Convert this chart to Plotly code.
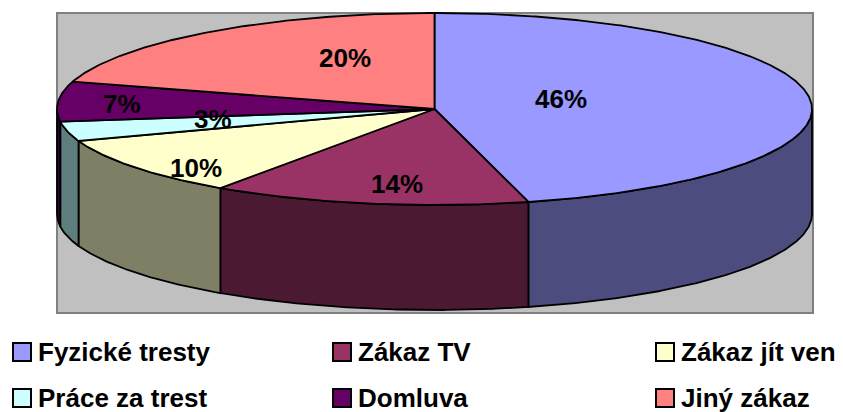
import numpy as np
import plotly.graph_objects as go

# ---- data ----
categories = ["Fyzické tresty", "Zákaz TV", "Zákaz jít ven", "Práce za trest", "Domluva", "Jiný zákaz"]
values = [46.0, 13.6, 10.0, 3.3, 6.7, 20.4]

# ---- style ----
top_colors = ["#9999FF", "#993366", "#FFFFCC", "#CCFFFF", "#660066", "#FF8080"]
side_colors = ["#4C4C7F", "#4C1933", "#7F7F66", "#5F7F7F", "#330033", "#7F4040"]
W, H = 843, 412
CX, CY, RX, RY, DEPTH = 434.5, 109.0, 377.5, 96.0, 105.0
BOX = (57, 13, 813, 313)
# label centres relative to pie centre, in units of (RX, RY)
label_offsets = [(0.335, -0.109), (-0.099, 0.781), (-0.632, 0.615),
                 (-0.587, 0.104), (-0.828, -0.052), (-0.237, -0.536)]
legend_cols = [13, 333, 656]
legend_rows = [352, 398]
FONT = "Arial, Liberation Sans, sans-serif"
LW = 1.8


def pt(phi, dy=0.0):
    r = np.radians(phi)
    return CX + RX * np.sin(r), CY - RY * np.cos(r) + dy


def arc(a, b, dy=0.0):
    n = max(2, int(abs(b - a) / 0.5) + 1)
    ph = np.linspace(a, b, n)
    x, y = pt(ph, dy)
    return list(x), list(y)


total = sum(values)
cum = np.concatenate([[0], np.cumsum(values)]) / total * 360.0

fig = go.Figure()

# side walls (front half only)
for i in range(len(values)):
    a, b = max(cum[i], 90.0), min(cum[i + 1], 270.0)
    if b <= a:
        continue
    tx, ty = arc(a, b)
    bx, by = arc(b, a, DEPTH)
    fig.add_trace(go.Scatter(x=tx + bx + [tx[0]], y=ty + by + [ty[0]], mode="lines",
                             fill="toself", fillcolor=side_colors[i],
                             line=dict(color="black", width=LW),
                             hoverinfo="skip", showlegend=False))

# top faces
for i in range(len(values)):
    ax, ay = arc(cum[i], cum[i + 1])
    fig.add_trace(go.Scatter(x=[CX] + ax + [CX], y=[CY] + ay + [CY], mode="lines",
                             fill="toself", fillcolor=top_colors[i],
                             line=dict(color="black", width=LW),
                             name=categories[i], hoverinfo="skip", showlegend=False))

annotations = []
for i, v in enumerate(values):
    u, w = label_offsets[i]
    annotations.append(dict(x=CX + u * RX, y=CY + w * RY, xref="x", yref="y",
                            text=f"{round(v / total * 100)}%", showarrow=False,
                            font=dict(family=FONT, size=26, color="black", weight="bold"),
                            xanchor="center", yanchor="middle"))

shapes = [dict(type="rect", xref="x", yref="y", x0=BOX[0], y0=BOX[1], x1=BOX[2], y1=BOX[3],
               fillcolor="#C0C0C0", line=dict(color="#808080", width=2), layer="below")]

SQ = 18
for i, name in enumerate(categories):
    col, row = i % 3, i // 3
    x0 = legend_cols[col]
    yc = legend_rows[row]
    shapes.append(dict(type="rect", xref="x", yref="y", x0=x0, x1=x0 + SQ,
                       y0=yc - SQ / 2, y1=yc + SQ / 2, fillcolor=top_colors[i],
                       line=dict(color="black", width=2), layer="above"))
    annotations.append(dict(x=x0 + SQ + 5, y=yc, xref="x", yref="y", text=name,
                            showarrow=False, xanchor="left", yanchor="middle",
                            font=dict(family=FONT, size=26, color="black", weight="bold")))

fig.update_layout(
    width=W, height=H, margin=dict(l=0, r=0, t=0, b=0),
    paper_bgcolor="white", plot_bgcolor="white",
    xaxis=dict(range=[0, W], visible=False, fixedrange=True),
    yaxis=dict(range=[H, 0], visible=False, fixedrange=True),
    shapes=shapes, annotations=annotations, showlegend=False,
)

fig.write_html("out.html", config={"displayModeBar": False},
               post_script="document.body.style.margin='0';document.body.style.overflow='hidden';")
